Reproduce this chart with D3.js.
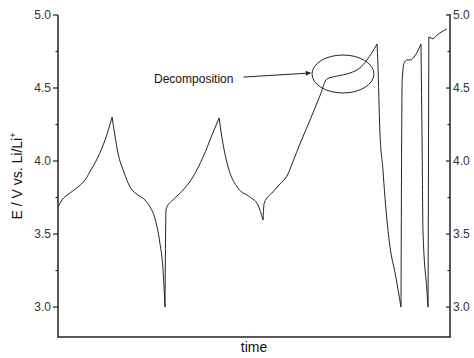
<!DOCTYPE html>
<html><head><meta charset="utf-8">
<script src="https://cdn.jsdelivr.net/npm/d3@7"></script>
<style>body{margin:0;background:#fff}svg{display:block;font-family:Arial,"Liberation Sans",sans-serif}</style>
</head><body><svg id="c" width="474" height="358"></svg>
<script>
// time (arbitrary units, 0-100)
const time = [0,1.02,3.06,5.1,6.89,8.67,10.2,12.0,13.8,14.5,15.3,16.8,18.4,20.4,22.2,23.5,24.7,26.0,26.8,27.3,27.55,27.8,29.3,31.9,34.4,37.0,39.5,41.1,41.8,43.4,45.9,49.0,51.0,52.3,52.6,54.8,56.6,58.4,60.0,61.7,64.3,66.8,68.6,71.2,74.5,77.0,78.8,81.4,81.6,82.1,82.9,83.4,84.7,86.0,87.5,87.8,88.3,89.0,89.8,92.6,92.9,93.1,94.1,94.4,94.6,95.7,97.4,99.2];
// potential E / V vs. Li/Li+
const potential = [3.685,3.733,3.781,3.822,3.870,3.952,4.027,4.144,4.301,4.178,4.055,3.925,3.822,3.767,3.733,3.685,3.610,3.438,3.253,3.0,3.664,3.685,3.733,3.801,3.890,4.027,4.192,4.295,4.164,3.959,3.815,3.753,3.699,3.596,3.712,3.788,3.842,3.897,4.0,4.116,4.281,4.445,4.562,4.582,4.603,4.637,4.692,4.801,4.671,4.212,3.938,3.753,3.411,3.233,3.0,4.555,4.671,4.692,4.692,4.801,4.075,3.527,3.116,3.0,4.849,4.836,4.877,4.904];
const majorTicks = [3.0,3.5,4.0,4.5,5.0];
const minorTicks = [3.25,3.75,4.25,4.75];
const annotationText = "Decomposition";
const ellipseCenter = [72.7, 4.596];
const ellipseRadii = [7.9, 0.13];
const arrowFrom = [47.3, 4.575];
const arrowTo = [64.5, 4.603];

const svg = d3.select("#c");
const L=58, R=450, T=15, B=337;
const x = d3.scaleLinear().domain([0,100]).range([L, L+392]);
const y = d3.scaleLinear().domain([2.795,5.0]).range([B, T]);
const ink = "#222", txt = "#333";

// curve: split into monotone runs so cusps stay sharp
const pts = time.map((t,i)=>[t, potential[i]]);
const runs = [];
let cur = [pts[0]], dir = 0;
for (let i=1;i<pts.length;i++){
  const d = Math.sign(pts[i][1]-pts[i-1][1]);
  if (dir!==0 && d!==0 && d!==dir){ runs.push(cur); cur=[pts[i-1]]; }
  if (d!==0) dir = d;
  cur.push(pts[i]);
}
runs.push(cur);
const line = d3.line().x(d=>x(d[0])).y(d=>y(d[1])).curve(d3.curveMonotoneX);
svg.append("g").selectAll("path").data(runs).join("path")
  .attr("d", line).attr("fill","none").attr("stroke",ink).attr("stroke-width",1);

// axes
const g = svg.append("g");
g.append("line").attr("x1",L).attr("x2",L).attr("y1",y(5.0)).attr("y2",B).attr("stroke",ink).attr("stroke-width",1.5);
g.append("line").attr("x1",R).attr("x2",R).attr("y1",y(5.0)-1).attr("y2",B).attr("stroke",ink).attr("stroke-width",1.5);
g.append("line").attr("x1",L-0.75).attr("x2",R+0.75).attr("y1",B).attr("y2",B).attr("stroke",ink).attr("stroke-width",1.5);

majorTicks.forEach(v=>{
  g.append("line").attr("x1",L-5).attr("x2",L).attr("y1",y(v)).attr("y2",y(v)).attr("stroke",ink).attr("stroke-width",1.2);
  g.append("line").attr("x1",R-4).attr("x2",R).attr("y1",y(v)).attr("y2",y(v)).attr("stroke",ink).attr("stroke-width",1.2);
  g.append("text").attr("x",L-7).attr("y",y(v)).attr("dy","0.35em").attr("text-anchor","end")
    .attr("font-size",12).attr("fill",txt).text(d3.format(".1f")(v));
  g.append("text").attr("x",R+3).attr("y",y(v)).attr("dy","0.35em").attr("text-anchor","start")
    .attr("font-size",12).attr("fill",txt).text(d3.format(".1f")(v));
});
minorTicks.forEach(v=>{
  g.append("line").attr("x1",L-2.5).attr("x2",L).attr("y1",y(v)).attr("y2",y(v)).attr("stroke",ink).attr("stroke-width",1.2);
  g.append("line").attr("x1",R-2.5).attr("x2",R).attr("y1",y(v)).attr("y2",y(v)).attr("stroke",ink).attr("stroke-width",1.2);
});

// axis titles
svg.append("text").attr("x",(L+R)/2).attr("y",352).attr("text-anchor","middle").attr("font-size",14).attr("fill","#111").text("time");
const yl = svg.append("text").attr("transform",`translate(22,${(T+B)/2}) rotate(-90)`).attr("text-anchor","middle").attr("font-size",14).attr("fill","#111");
yl.append("tspan").text("E / V vs. Li/Li");
yl.append("tspan").attr("font-size",9).attr("dy",-6).text("+");

// annotation
svg.append("defs").append("marker").attr("id","ah").attr("viewBox","0 0 10 10").attr("refX",10).attr("refY",5)
  .attr("markerWidth",7).attr("markerHeight",5).attr("orient","auto").attr("markerUnits","userSpaceOnUse")
  .append("path").attr("d","M0,0L10,5L0,10z").attr("fill",ink);
svg.append("ellipse").attr("cx",x(ellipseCenter[0])).attr("cy",y(ellipseCenter[1]))
  .attr("rx",x(ellipseRadii[0])-x(0)).attr("ry",y(0)-y(ellipseRadii[1]))
  .attr("fill","none").attr("stroke",ink).attr("stroke-width",1);
svg.append("line").attr("x1",x(arrowFrom[0])).attr("y1",y(arrowFrom[1])).attr("x2",x(arrowTo[0])).attr("y2",y(arrowTo[1]))
  .attr("stroke",ink).attr("stroke-width",1).attr("marker-end","url(#ah)");
svg.append("text").attr("x",x(arrowFrom[0])-10).attr("y",y(arrowFrom[1])+2).attr("dy","0.35em").attr("text-anchor","end")
  .attr("font-size",12).attr("fill","#111").text(annotationText);
</script></body></html>
